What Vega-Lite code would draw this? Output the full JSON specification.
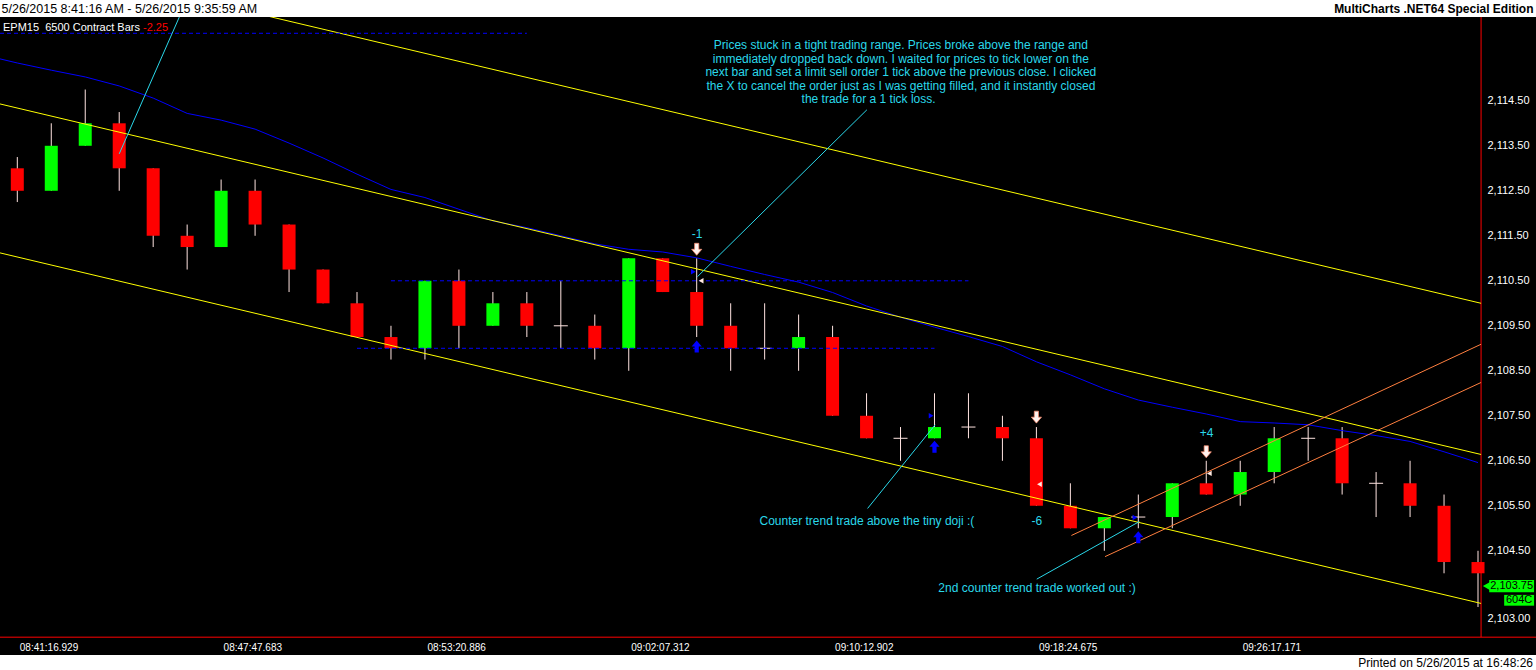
{
  "$schema": "https://vega.github.io/schema/vega-lite/v6.json",
  "width": 1536,
  "height": 638,
  "autosize": {"type": "none"},
  "padding": {"left": 0, "top": 17, "right": 0, "bottom": 15},
  "background": "#ffffff",
  "config": {
    "view": {"fill": "#000000", "stroke": null},
    "axis": {"grid": false, "labelOverlap": false},
    "scale": {"continuousPadding": 0},
    "font": "Liberation Sans"
  },
  "title": {
    "text": "Printed on 5/26/2015 at 16:48:26",
    "orient": "bottom",
    "anchor": "end",
    "frame": "group",
    "fontSize": 12,
    "fontWeight": "normal",
    "color": "#000000",
    "baseline": "middle",
    "offset": 7,
    "dx": -3,
    "font": "Liberation Sans"
  },
  "datasets": {
    "bars": [
      {"i": 1, "o": 2113.0, "h": 2113.25, "l": 2112.25, "c": 2112.5},
      {"i": 2, "o": 2112.5, "h": 2114.0, "l": 2112.5, "c": 2113.5},
      {"i": 3, "o": 2113.5, "h": 2114.75, "l": 2113.5, "c": 2114.0},
      {"i": 4, "o": 2114.0, "h": 2114.25, "l": 2112.5, "c": 2113.0},
      {"i": 5, "o": 2113.0, "h": 2113.0, "l": 2111.25, "c": 2111.5},
      {"i": 6, "o": 2111.5, "h": 2111.75, "l": 2110.75, "c": 2111.25},
      {"i": 7, "o": 2111.25, "h": 2112.75, "l": 2111.25, "c": 2112.5},
      {"i": 8, "o": 2112.5, "h": 2112.75, "l": 2111.5, "c": 2111.75},
      {"i": 9, "o": 2111.75, "h": 2111.75, "l": 2110.25, "c": 2110.75},
      {"i": 10, "o": 2110.75, "h": 2110.75, "l": 2110.0, "c": 2110.0},
      {"i": 11, "o": 2110.0, "h": 2110.25, "l": 2109.25, "c": 2109.25},
      {"i": 12, "o": 2109.25, "h": 2109.5, "l": 2108.75, "c": 2109.0},
      {"i": 13, "o": 2109.0, "h": 2110.5, "l": 2108.75, "c": 2110.5},
      {"i": 14, "o": 2110.5, "h": 2110.75, "l": 2109.0, "c": 2109.5},
      {"i": 15, "o": 2109.5, "h": 2110.25, "l": 2109.5, "c": 2110.0},
      {"i": 16, "o": 2110.0, "h": 2110.25, "l": 2109.25, "c": 2109.5},
      {"i": 17, "o": 2109.5, "h": 2110.5, "l": 2109.0, "c": 2109.5},
      {"i": 18, "o": 2109.5, "h": 2109.75, "l": 2108.75, "c": 2109.0},
      {"i": 19, "o": 2109.0, "h": 2111.0, "l": 2108.5, "c": 2111.0},
      {"i": 20, "o": 2111.0, "h": 2111.0, "l": 2110.25, "c": 2110.25},
      {"i": 21, "o": 2110.25, "h": 2111.0, "l": 2109.25, "c": 2109.5},
      {"i": 22, "o": 2109.5, "h": 2110.0, "l": 2108.5, "c": 2109.0},
      {"i": 23, "o": 2109.0, "h": 2110.0, "l": 2108.75, "c": 2109.0},
      {"i": 24, "o": 2109.0, "h": 2109.75, "l": 2108.5, "c": 2109.25},
      {"i": 25, "o": 2109.25, "h": 2109.5, "l": 2107.5, "c": 2107.5},
      {"i": 26, "o": 2107.5, "h": 2108.0, "l": 2107.0, "c": 2107.0},
      {"i": 27, "o": 2107.0, "h": 2107.25, "l": 2106.5, "c": 2107.0},
      {"i": 28, "o": 2107.0, "h": 2108.0, "l": 2107.0, "c": 2107.25},
      {"i": 29, "o": 2107.25, "h": 2108.0, "l": 2107.0, "c": 2107.25},
      {"i": 30, "o": 2107.25, "h": 2107.5, "l": 2106.5, "c": 2107.0},
      {"i": 31, "o": 2107.0, "h": 2107.25, "l": 2105.5, "c": 2105.5},
      {"i": 32, "o": 2105.5, "h": 2106.0, "l": 2105.0, "c": 2105.0},
      {"i": 33, "o": 2105.0, "h": 2105.25, "l": 2104.5, "c": 2105.25},
      {"i": 34, "o": 2105.25, "h": 2105.75, "l": 2105.0, "c": 2105.25},
      {"i": 35, "o": 2105.25, "h": 2106.0, "l": 2105.0, "c": 2106.0},
      {"i": 36, "o": 2106.0, "h": 2106.5, "l": 2105.75, "c": 2105.75},
      {"i": 37, "o": 2105.75, "h": 2106.5, "l": 2105.5, "c": 2106.25},
      {"i": 38, "o": 2106.25, "h": 2107.25, "l": 2106.0, "c": 2107.0},
      {"i": 39, "o": 2107.0, "h": 2107.25, "l": 2106.5, "c": 2107.0},
      {"i": 40, "o": 2107.0, "h": 2107.25, "l": 2105.75, "c": 2106.0},
      {"i": 41, "o": 2106.0, "h": 2106.25, "l": 2105.25, "c": 2106.0},
      {"i": 42, "o": 2106.0, "h": 2106.5, "l": 2105.25, "c": 2105.5},
      {"i": 43, "o": 2105.5, "h": 2105.75, "l": 2104.0, "c": 2104.25},
      {"i": 44, "o": 2104.25, "h": 2104.5, "l": 2103.25, "c": 2104.0}
    ],
    "ma": [
      {"i": 0, "v": 2115.52}, {"i": 1, "v": 2115.34}, {"i": 2, "v": 2115.18}, {"i": 3, "v": 2115.03},
      {"i": 4, "v": 2114.83}, {"i": 5, "v": 2114.56}, {"i": 6, "v": 2114.22}, {"i": 7, "v": 2114.07},
      {"i": 8, "v": 2113.87}, {"i": 9, "v": 2113.56}, {"i": 10, "v": 2113.23}, {"i": 11, "v": 2112.87},
      {"i": 12, "v": 2112.53}, {"i": 13, "v": 2112.35}, {"i": 14, "v": 2112.09}, {"i": 15, "v": 2111.83},
      {"i": 16, "v": 2111.68}, {"i": 17, "v": 2111.5}, {"i": 18, "v": 2111.32}, {"i": 19, "v": 2111.2},
      {"i": 20, "v": 2111.14}, {"i": 21, "v": 2111.01}, {"i": 22, "v": 2110.82}, {"i": 23, "v": 2110.64},
      {"i": 24, "v": 2110.47}, {"i": 25, "v": 2110.24}, {"i": 26, "v": 2109.94}, {"i": 27, "v": 2109.69},
      {"i": 28, "v": 2109.47}, {"i": 29, "v": 2109.26}, {"i": 30, "v": 2109.04}, {"i": 31, "v": 2108.7},
      {"i": 32, "v": 2108.41}, {"i": 33, "v": 2108.1}, {"i": 34, "v": 2107.85}, {"i": 35, "v": 2107.69},
      {"i": 36, "v": 2107.54}, {"i": 37, "v": 2107.37}, {"i": 38, "v": 2107.34}, {"i": 39, "v": 2107.3},
      {"i": 40, "v": 2107.17}, {"i": 41, "v": 2107.06}, {"i": 42, "v": 2106.93}, {"i": 43, "v": 2106.7},
      {"i": 44, "v": 2106.46}
    ],
    "channel": [
      {"i1": 0.4907, "p1": 2117.79, "i2": 44.09, "p2": 2110.0},
      {"i1": 0.4907, "p1": 2114.43, "i2": 44.09, "p2": 2106.64},
      {"i1": 0.4907, "p1": 2111.12, "i2": 44.09, "p2": 2103.33}
    ],
    "upchannel": [
      {"i1": 32.03, "p1": 2104.84, "i2": 44.09, "p2": 2109.09},
      {"i1": 33.02, "p1": 2104.37, "i2": 44.09, "p2": 2108.24}
    ],
    "levels": [
      {"p": 2116.0, "i1": 0.4907, "i2": 16.0},
      {"p": 2110.5, "i1": 12.0, "i2": 29.0},
      {"p": 2109.0, "i1": 11.0, "i2": 28.0}
    ],
    "callouts": [
      {"i1": 4.0, "p1": 2113.32, "i2": 5.99, "p2": 2116.74},
      {"i1": 21.02, "p1": 2110.59, "i2": 26.01, "p2": 2114.3},
      {"i1": 26.03, "p1": 2105.44, "i2": 28.02, "p2": 2107.3},
      {"i1": 31.01, "p1": 2103.87, "i2": 34.03, "p2": 2105.15}
    ],
    "notes": [
      {"i": 27.01, "p": 2115.74, "text": "Prices stuck in a tight trading range. Prices broke above the range and"},
      {"i": 27.01, "p": 2115.43, "text": "immediately dropped back down. I waited for prices to tick lower on the"},
      {"i": 27.01, "p": 2115.13, "text": "next bar and set a limit sell order 1 tick above the previous close. I clicked"},
      {"i": 27.01, "p": 2114.83, "text": "the X to cancel the order just as I was getting filled, and it instantly closed"},
      {"i": 26.06, "p": 2114.53, "text": "the trade for a 1 tick loss."},
      {"i": 26.01, "p": 2105.17, "text": "Counter trend trade above the tiny doji :("},
      {"i": 31.02, "p": 2103.67, "text": "2nd counter trend trade worked out :)"},
      {"i": 21.01, "p": 2111.54, "text": "-1"},
      {"i": 31.01, "p": 2105.17, "text": "-6"},
      {"i": 36.01, "p": 2107.11, "text": "+4"}
    ],
    "entryMarks": [
      {"i": 20.9, "p": 2110.7}, {"i": 27.9, "p": 2107.5}, {"i": 33.9, "p": 2105.24}
    ],
    "entryArrows": [
      {"i": 21.0, "p": 2109.04}, {"i": 28.0, "p": 2106.81}, {"i": 34.0, "p": 2104.8}
    ],
    "exitMarks": [
      {"i": 21.13, "p": 2110.5}, {"i": 31.09, "p": 2105.98}, {"i": 36.09, "p": 2106.22}
    ],
    "exitArrows": [
      {"i": 21.0, "p": 2111.2}, {"i": 31.0, "p": 2107.47}, {"i": 36.0, "p": 2106.7}
    ],
    "symbolLabel": [
      {"i": 0.579, "p": 2116.12, "text": "EPM15\u00a0 6500 Contract Bars"}
    ],
    "openPnl": [
      {"i": 4.7, "p": 2116.12, "text": "-2.25"}
    ],
    "priceBoxes": [
      {"i1": 44.33, "i2": 45.65, "p1": 2103.58, "p2": 2103.85},
      {"i1": 44.77, "i2": 45.65, "p1": 2103.28, "p2": 2103.52}
    ],
    "priceTip": [
      {"i": 44.25, "p": 2103.715}
    ],
    "priceText": [
      {"i": 44.99, "p": 2103.715, "text": "2,103.75"},
      {"i": 45.21, "p": 2103.4, "text": "604C"}
    ]
  },
  "layer": [
    {
      "data": {"name": "bars"},
      "mark": {"type": "rule", "color": "#ffe4e1", "strokeWidth": 1},
      "encoding": {
        "x": {
          "field": "i", "type": "quantitative",
          "scale": {"domain": [0.4907, 45.707], "nice": false, "zero": false, "padding": 0},
          "axis": {
            "orient": "bottom", "zindex": 1, "domain": false, "grid": false,
            "values": [1, 7, 13, 19, 25, 31, 37, 43],
            "labelExpr": "datum.value == 1 ? '08:41:16.929' : datum.value == 7 ? '08:47:47.683' : datum.value == 13 ? '08:53:20.886' : datum.value == 19 ? '09:02:07.312' : datum.value == 25 ? '09:10:12.902' : datum.value == 31 ? '09:18:24.675' : datum.value == 37 ? '09:26:17.171' : ''",
            "ticks": true, "tickSize": 0, "tickColor": "#ff0000",
            "labelColor": "#ffffff", "labelFontSize": 10, "labelFont": "Liberation Sans",
            "labelAlign": "left", "labelBaseline": "top", "labelOffset": 2, "labelPadding": -13,
            "labelFlush": false, "labelOverlap": false, "labelBound": false,
            "title": "5/26/2015 8:41:16 AM - 5/26/2015 9:35:59 AM",
            "titleX": 1, "titleY": -646.5, "titleAlign": "left", "titleBaseline": "middle", "titleAngle": 0,
            "titleFontSize": 12.5, "titleFontWeight": "normal", "titleColor": "#000000", "titleFont": "Liberation Sans"
          }
        },
        "y": {
          "field": "l", "type": "quantitative",
          "scale": {"domain": [2102.184, 2116.362], "nice": false, "zero": false, "padding": 0},
          "axis": {
            "orient": "right", "zindex": 1, "domain": false, "grid": false,
            "values": [2103, 2104, 2104.5, 2105, 2105.5, 2106, 2106.5, 2107, 2107.5, 2108, 2108.5, 2109, 2109.5, 2110, 2110.5, 2111, 2111.5, 2112, 2112.5, 2113, 2113.5, 2114, 2114.5, 2115],
            "format": ",.2f",
            "ticks": true, "tickSize": 0, "tickColor": "#ff0000",
            "labelColor": "#ffffff", "labelFontSize": 11, "labelFont": "Liberation Sans",
            "labelAlign": "left", "labelBaseline": "middle", "labelPadding": -49,
            "labelOverlap": false, "labelSeparation": -15, "labelBound": false, "labelFlush": false,
            "title": "MultiCharts .NET64 Special Edition",
            "titleAngle": 0, "titleX": -3, "titleY": -8.5, "titleAlign": "right", "titleBaseline": "middle",
            "titleFontSize": 12, "titleFontWeight": "bold", "titleColor": "#000000", "titleFont": "Liberation Sans"
          }
        },
        "y2": {"field": "h"}
      }
    },
    {
      "data": {"values": [{}]},
      "mark": {"type": "rule", "color": "#ff0000", "strokeWidth": 1},
      "encoding": {
        "x": {"datum": 44.09, "type": "quantitative", "scale": {"domain": [0.4907, 45.707], "nice": false, "zero": false, "padding": 0}},
        "y": {"datum": 2102.58, "type": "quantitative", "scale": {"domain": [2102.184, 2116.362], "nice": false, "zero": false, "padding": 0}},
        "y2": {"datum": 2116.362}
      }
    },
    {
      "data": {"values": [{}]},
      "mark": {"type": "rule", "color": "#ff0000", "strokeWidth": 1},
      "encoding": {
        "y": {"datum": 2102.58, "type": "quantitative", "scale": {"domain": [2102.184, 2116.362], "nice": false, "zero": false, "padding": 0}}
      }
    },
    {
      "data": {"name": "bars"},
      "transform": [{"filter": "datum.c != datum.o"}],
      "mark": {"type": "bar", "width": 13, "opacity": 1},
      "encoding": {
        "x": {"field": "i", "type": "quantitative", "scale": {"domain": [0.4907, 45.707], "nice": false, "zero": false, "padding": 0}},
        "y": {"field": "o", "type": "quantitative", "scale": {"domain": [2102.184, 2116.362], "nice": false, "zero": false, "padding": 0}},
        "y2": {"field": "c"},
        "color": {"condition": {"test": "datum.c > datum.o", "value": "#00ff00"}, "value": "#ff0000"}
      }
    },
    {
      "data": {"name": "bars"},
      "transform": [{"filter": "datum.c == datum.o"}],
      "mark": {"type": "tick", "orient": "horizontal", "size": 14, "thickness": 1, "color": "#ffe4e1", "opacity": 1},
      "encoding": {
        "x": {"field": "i", "type": "quantitative", "scale": {"domain": [0.4907, 45.707], "nice": false, "zero": false, "padding": 0}},
        "y": {"field": "c", "type": "quantitative", "scale": {"domain": [2102.184, 2116.362], "nice": false, "zero": false, "padding": 0}}
      }
    },
    {
      "data": {"name": "ma"},
      "mark": {"type": "line", "color": "#0000ff", "strokeWidth": 1, "clip": true},
      "encoding": {
        "x": {"field": "i", "type": "quantitative", "scale": {"domain": [0.4907, 45.707], "nice": false, "zero": false, "padding": 0}},
        "y": {"field": "v", "type": "quantitative", "scale": {"domain": [2102.184, 2116.362], "nice": false, "zero": false, "padding": 0}}
      }
    },
    {
      "data": {"name": "channel"},
      "mark": {"type": "rule", "color": "#ffff00", "strokeWidth": 1, "clip": true},
      "encoding": {
        "x": {"field": "i1", "type": "quantitative", "scale": {"domain": [0.4907, 45.707], "nice": false, "zero": false, "padding": 0}},
        "y": {"field": "p1", "type": "quantitative", "scale": {"domain": [2102.184, 2116.362], "nice": false, "zero": false, "padding": 0}},
        "x2": {"field": "i2"},
        "y2": {"field": "p2"}
      }
    },
    {
      "data": {"name": "upchannel"},
      "mark": {"type": "rule", "color": "#ff7f3f", "strokeWidth": 1, "clip": true},
      "encoding": {
        "x": {"field": "i1", "type": "quantitative", "scale": {"domain": [0.4907, 45.707], "nice": false, "zero": false, "padding": 0}},
        "y": {"field": "p1", "type": "quantitative", "scale": {"domain": [2102.184, 2116.362], "nice": false, "zero": false, "padding": 0}},
        "x2": {"field": "i2"},
        "y2": {"field": "p2"}
      }
    },
    {
      "data": {"name": "levels"},
      "mark": {"type": "rule", "color": "#0000ff", "strokeWidth": 1, "strokeDash": [4, 3], "clip": true},
      "encoding": {
        "x": {"field": "i1", "type": "quantitative", "scale": {"domain": [0.4907, 45.707], "nice": false, "zero": false, "padding": 0}},
        "x2": {"field": "i2"},
        "y": {"field": "p", "type": "quantitative", "scale": {"domain": [2102.184, 2116.362], "nice": false, "zero": false, "padding": 0}}
      }
    },
    {
      "data": {"name": "callouts"},
      "mark": {"type": "rule", "color": "#2ad8ea", "strokeWidth": 1, "clip": true},
      "encoding": {
        "x": {"field": "i1", "type": "quantitative", "scale": {"domain": [0.4907, 45.707], "nice": false, "zero": false, "padding": 0}},
        "y": {"field": "p1", "type": "quantitative", "scale": {"domain": [2102.184, 2116.362], "nice": false, "zero": false, "padding": 0}},
        "x2": {"field": "i2"},
        "y2": {"field": "p2"}
      }
    },
    {
      "data": {"name": "entryMarks"},
      "mark": {"type": "point", "shape": "triangle-right", "filled": true, "color": "#0000ff", "size": 30, "opacity": 1},
      "encoding": {
        "x": {"field": "i", "type": "quantitative", "scale": {"domain": [0.4907, 45.707], "nice": false, "zero": false, "padding": 0}},
        "y": {"field": "p", "type": "quantitative", "scale": {"domain": [2102.184, 2116.362], "nice": false, "zero": false, "padding": 0}}
      }
    },
    {
      "data": {"name": "entryArrows"},
      "mark": {"type": "point", "shape": "M0,-1L0.85,0L0.35,0L0.35,1L-0.35,1L-0.35,0L-0.85,0Z", "filled": true, "color": "#0000ff", "size": 144, "opacity": 1},
      "encoding": {
        "x": {"field": "i", "type": "quantitative", "scale": {"domain": [0.4907, 45.707], "nice": false, "zero": false, "padding": 0}},
        "y": {"field": "p", "type": "quantitative", "scale": {"domain": [2102.184, 2116.362], "nice": false, "zero": false, "padding": 0}}
      }
    },
    {
      "data": {"name": "exitMarks"},
      "mark": {"type": "point", "shape": "triangle-left", "filled": true, "color": "#ffe8e0", "size": 30, "opacity": 1},
      "encoding": {
        "x": {"field": "i", "type": "quantitative", "scale": {"domain": [0.4907, 45.707], "nice": false, "zero": false, "padding": 0}},
        "y": {"field": "p", "type": "quantitative", "scale": {"domain": [2102.184, 2116.362], "nice": false, "zero": false, "padding": 0}}
      }
    },
    {
      "data": {"name": "exitArrows"},
      "mark": {"type": "point", "shape": "M0,1L0.85,0L0.35,0L0.35,-1L-0.35,-1L-0.35,0L-0.85,0Z", "filled": true, "fill": "#fff2ee", "stroke": "#ff8a6a", "strokeWidth": 0.7, "size": 144, "opacity": 1},
      "encoding": {
        "x": {"field": "i", "type": "quantitative", "scale": {"domain": [0.4907, 45.707], "nice": false, "zero": false, "padding": 0}},
        "y": {"field": "p", "type": "quantitative", "scale": {"domain": [2102.184, 2116.362], "nice": false, "zero": false, "padding": 0}}
      }
    },
    {
      "data": {"name": "notes"},
      "mark": {"type": "text", "color": "#2ad8ea", "fontSize": 12, "font": "Liberation Sans", "align": "center", "baseline": "middle"},
      "encoding": {
        "x": {"field": "i", "type": "quantitative", "scale": {"domain": [0.4907, 45.707], "nice": false, "zero": false, "padding": 0}},
        "y": {"field": "p", "type": "quantitative", "scale": {"domain": [2102.184, 2116.362], "nice": false, "zero": false, "padding": 0}},
        "text": {"field": "text"}
      }
    },
    {
      "data": {"name": "symbolLabel"},
      "mark": {"type": "text", "color": "#ffffff", "fontSize": 11, "font": "Liberation Sans", "align": "left", "baseline": "middle"},
      "encoding": {
        "x": {"field": "i", "type": "quantitative", "scale": {"domain": [0.4907, 45.707], "nice": false, "zero": false, "padding": 0}},
        "y": {"field": "p", "type": "quantitative", "scale": {"domain": [2102.184, 2116.362], "nice": false, "zero": false, "padding": 0}},
        "text": {"field": "text"}
      }
    },
    {
      "data": {"name": "openPnl"},
      "mark": {"type": "text", "color": "#ff0000", "fontSize": 11, "font": "Liberation Sans", "align": "left", "baseline": "middle"},
      "encoding": {
        "x": {"field": "i", "type": "quantitative", "scale": {"domain": [0.4907, 45.707], "nice": false, "zero": false, "padding": 0}},
        "y": {"field": "p", "type": "quantitative", "scale": {"domain": [2102.184, 2116.362], "nice": false, "zero": false, "padding": 0}},
        "text": {"field": "text"}
      }
    },
    {
      "data": {"name": "priceBoxes"},
      "mark": {"type": "rect", "color": "#00ff00", "opacity": 1},
      "encoding": {
        "x": {"field": "i1", "type": "quantitative", "scale": {"domain": [0.4907, 45.707], "nice": false, "zero": false, "padding": 0}},
        "x2": {"field": "i2"},
        "y": {"field": "p1", "type": "quantitative", "scale": {"domain": [2102.184, 2116.362], "nice": false, "zero": false, "padding": 0}},
        "y2": {"field": "p2"}
      }
    },
    {
      "data": {"name": "priceTip"},
      "mark": {"type": "point", "shape": "triangle-left", "filled": true, "color": "#00ff00", "size": 70, "opacity": 1},
      "encoding": {
        "x": {"field": "i", "type": "quantitative", "scale": {"domain": [0.4907, 45.707], "nice": false, "zero": false, "padding": 0}},
        "y": {"field": "p", "type": "quantitative", "scale": {"domain": [2102.184, 2116.362], "nice": false, "zero": false, "padding": 0}}
      }
    },
    {
      "data": {"name": "priceText"},
      "mark": {"type": "text", "color": "#000000", "fontSize": 11, "font": "Liberation Sans", "align": "center", "baseline": "middle"},
      "encoding": {
        "x": {"field": "i", "type": "quantitative", "scale": {"domain": [0.4907, 45.707], "nice": false, "zero": false, "padding": 0}},
        "y": {"field": "p", "type": "quantitative", "scale": {"domain": [2102.184, 2116.362], "nice": false, "zero": false, "padding": 0}},
        "text": {"field": "text"}
      }
    }
  ]
}
